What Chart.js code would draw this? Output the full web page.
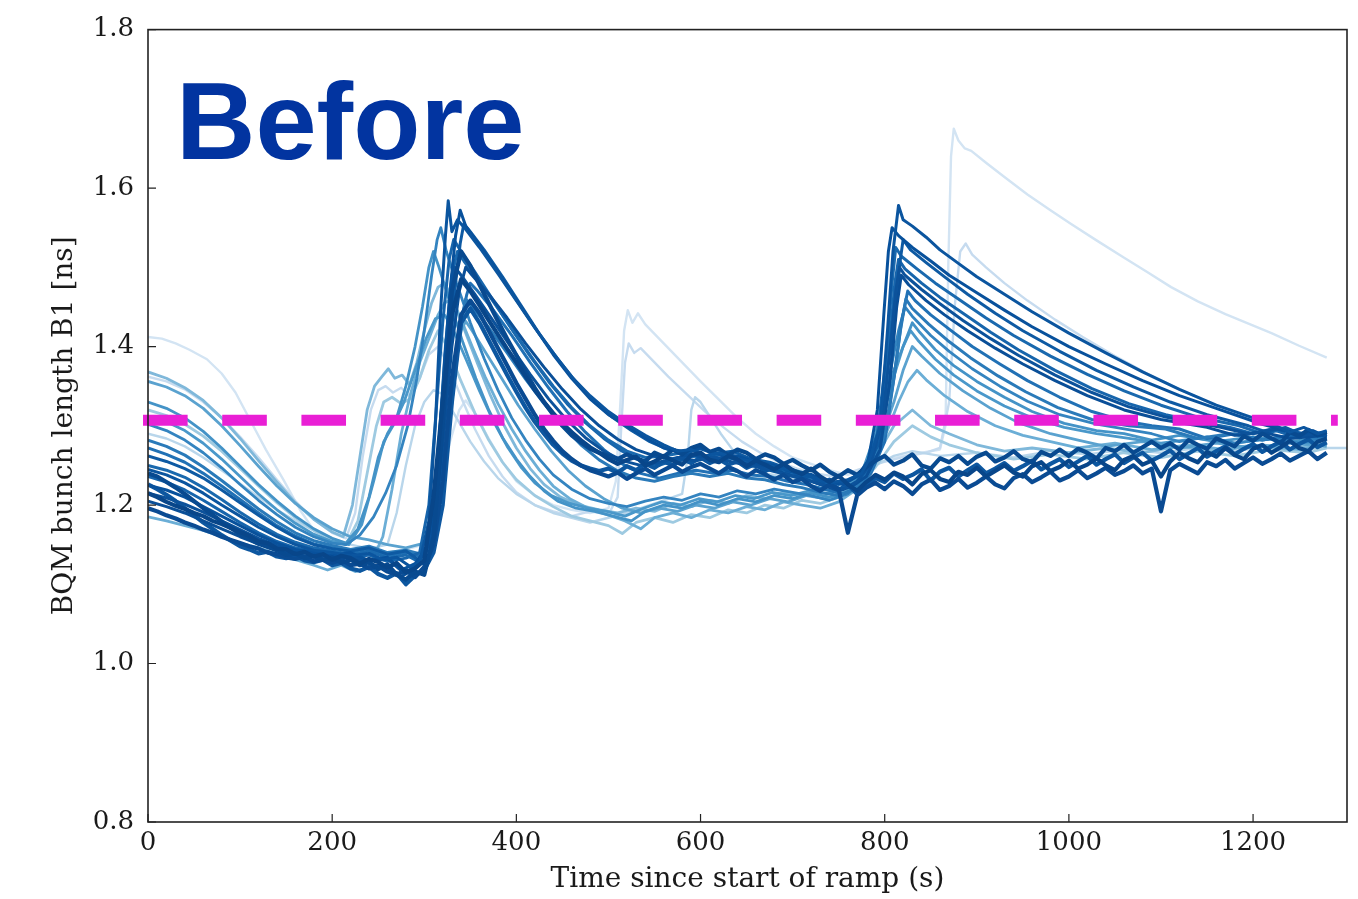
<!DOCTYPE html>
<html>
<head>
<meta charset="utf-8">
<script src="https://cdn.jsdelivr.net/npm/chart.js@4.4.1/dist/chart.umd.min.js"></script>
<style>
html,body{margin:0;padding:0;background:#fff;}
#wrap{width:1358px;height:899px;position:relative;}
</style>
</head>
<body>
<div id="wrap"><canvas id="c" width="1358" height="899"></canvas></div>
<script>
// ---------- tick labels ----------
const xTickValues = [0, 200, 400, 600, 800, 1000, 1200];
const yTickValues = [0.8, 1.0, 1.2, 1.4, 1.6, 1.8];
const xTitle = "Time since start of ramp (s)";
const yTitle = "BQM bunch length B1 [ns]";
const panelLabel = "Before";
const targetLevel = 1.307;
const targetSpan = [-5.4, 1292];

// ---------- smooth traces: [time (s), bunch length (ns)] ----------
const seriesA1 = [[0,1.245],[20,1.238],[40,1.228],[60,1.215],[80,1.200],[100,1.186],[120,1.172],[140,1.160],[160,1.150],[180,1.143],[200,1.140],[220,1.136],[240,1.139],[255,1.131],[270,1.134],[285,1.122],[295,1.128],[305,1.180],[312,1.300],[318,1.450],[323,1.540],[326,1.584],[330,1.545],[336,1.560],[345,1.548],[360,1.525],[380,1.492],[400,1.458],[420,1.424],[440,1.392],[460,1.362],[480,1.338],[500,1.318],[520,1.302],[540,1.288],[560,1.276],[575,1.268],[590,1.270],[605,1.262],[620,1.266],[640,1.258],[660,1.255],[680,1.248],[700,1.243],[720,1.236],[740,1.228],[760,1.232],[775,1.240],[785,1.262],[795,1.300],[803,1.420],[809,1.520],[815,1.578],[820,1.560],[830,1.552],[845,1.538],[860,1.522],[880,1.505],[900,1.488],[930,1.466],[960,1.444],[1000,1.417],[1040,1.392],[1080,1.368],[1120,1.346],[1160,1.326],[1200,1.310],[1225,1.300],[1240,1.292],[1255,1.298],[1270,1.290],[1280,1.294]];
const seriesA2 = [[0,1.225],[20,1.219],[40,1.210],[60,1.198],[80,1.186],[100,1.174],[120,1.162],[140,1.152],[160,1.144],[180,1.140],[200,1.136],[220,1.140],[240,1.130],[260,1.134],[275,1.118],[290,1.126],[305,1.150],[315,1.250],[322,1.380],[328,1.470],[334,1.540],[339,1.572],[345,1.552],[360,1.528],[380,1.494],[400,1.459],[420,1.424],[440,1.390],[460,1.360],[480,1.334],[500,1.314],[520,1.300],[540,1.285],[560,1.272],[580,1.268],[600,1.272],[620,1.264],[640,1.262],[660,1.254],[680,1.250],[700,1.242],[720,1.238],[740,1.230],[755,1.226],[770,1.236],[782,1.256],[792,1.320],[799,1.440],[804,1.520],[808,1.550],[815,1.540],[830,1.525],[850,1.508],[870,1.490],[900,1.468],[930,1.446],[960,1.425],[1000,1.400],[1040,1.378],[1080,1.357],[1120,1.338],[1160,1.322],[1210,1.302],[1230,1.296],[1250,1.288],[1265,1.294],[1280,1.286]];
const seriesA3 = [[0,1.262],[20,1.255],[40,1.246],[60,1.234],[80,1.219],[100,1.203],[120,1.187],[140,1.172],[160,1.159],[180,1.150],[200,1.145],[220,1.142],[240,1.146],[260,1.138],[280,1.142],[295,1.130],[308,1.160],[318,1.240],[326,1.360],[333,1.470],[339,1.530],[343,1.555],[350,1.545],[365,1.522],[385,1.488],[405,1.452],[425,1.416],[445,1.384],[465,1.355],[485,1.330],[505,1.310],[525,1.294],[545,1.280],[565,1.270],[585,1.266],[600,1.271],[615,1.265],[635,1.268],[655,1.258],[675,1.254],[695,1.246],[715,1.240],[735,1.232],[750,1.226],[765,1.234],[780,1.248],[795,1.280],[805,1.350],[812,1.450],[817,1.510],[820,1.535],[828,1.522],[845,1.506],[865,1.488],[890,1.466],[920,1.442],[950,1.420],[990,1.394],[1030,1.370],[1070,1.349],[1110,1.330],[1150,1.314],[1195,1.300],[1215,1.292],[1235,1.298],[1255,1.288],[1280,1.292]];
const seriesA4 = [[0,1.236],[20,1.229],[40,1.219],[60,1.206],[80,1.192],[100,1.178],[120,1.165],[140,1.154],[160,1.146],[180,1.141],[200,1.138],[220,1.133],[240,1.137],[260,1.129],[280,1.133],[295,1.140],[305,1.200],[313,1.320],[320,1.430],[327,1.510],[332,1.535],[340,1.520],[355,1.494],[375,1.458],[395,1.422],[415,1.388],[435,1.356],[455,1.328],[475,1.304],[495,1.284],[515,1.268],[535,1.256],[555,1.250],[575,1.258],[595,1.262],[615,1.256],[635,1.260],[655,1.250],[675,1.246],[695,1.238],[715,1.232],[735,1.224],[755,1.220],[770,1.228],[785,1.250],[797,1.300],[805,1.400],[811,1.480],[815,1.510],[822,1.498],[840,1.480],[860,1.462],[885,1.442],[915,1.418],[945,1.396],[985,1.370],[1025,1.347],[1065,1.328],[1105,1.314],[1140,1.305],[1175,1.298],[1200,1.290],[1220,1.296],[1245,1.286],[1280,1.290]];
const seriesA5 = [[0,1.205],[20,1.198],[40,1.190],[60,1.180],[80,1.170],[100,1.160],[120,1.151],[140,1.143],[160,1.138],[180,1.134],[200,1.130],[220,1.134],[240,1.126],[260,1.121],[275,1.110],[288,1.118],[300,1.130],[312,1.190],[322,1.300],[330,1.400],[338,1.470],[345,1.500],[352,1.490],[370,1.466],[390,1.436],[410,1.404],[430,1.374],[450,1.346],[470,1.321],[490,1.300],[510,1.283],[530,1.270],[550,1.262],[570,1.258],[590,1.264],[610,1.258],[630,1.261],[650,1.252],[670,1.249],[690,1.240],[710,1.234],[730,1.226],[750,1.218],[765,1.224],[780,1.236],[795,1.270],[806,1.360],[813,1.450],[818,1.490],[826,1.478],[845,1.458],[865,1.440],[890,1.420],[920,1.398],[950,1.378],[985,1.357],[1020,1.338],[1060,1.320],[1100,1.308],[1150,1.298],[1180,1.288],[1210,1.292],[1240,1.284],[1280,1.288]];
const seriesA6 = [[0,1.272],[20,1.264],[40,1.254],[60,1.240],[80,1.224],[100,1.207],[120,1.190],[140,1.174],[160,1.161],[180,1.151],[200,1.146],[220,1.141],[240,1.145],[260,1.136],[280,1.140],[300,1.134],[312,1.170],[322,1.250],[332,1.350],[340,1.430],[346,1.465],[350,1.480],[358,1.470],[375,1.446],[395,1.414],[415,1.380],[435,1.348],[455,1.318],[475,1.292],[495,1.270],[515,1.252],[535,1.240],[555,1.234],[575,1.240],[595,1.244],[615,1.240],[635,1.244],[655,1.238],[675,1.236],[695,1.230],[715,1.226],[735,1.220],[755,1.214],[770,1.222],[785,1.240],[800,1.280],[810,1.360],[818,1.430],[825,1.470],[833,1.458],[850,1.440],[870,1.422],[895,1.400],[925,1.378],[955,1.357],[990,1.336],[1025,1.318],[1060,1.306],[1090,1.300],[1120,1.296],[1150,1.284],[1180,1.290],[1210,1.282],[1240,1.288],[1280,1.284]];
const seriesA7 = [[0,1.302],[20,1.294],[40,1.282],[60,1.266],[80,1.247],[100,1.226],[120,1.206],[140,1.188],[160,1.172],[180,1.160],[200,1.152],[215,1.150],[230,1.162],[245,1.185],[258,1.215],[270,1.250],[282,1.300],[292,1.360],[300,1.420],[308,1.490],[314,1.535],[318,1.550],[324,1.520],[335,1.480],[350,1.430],[365,1.385],[380,1.345],[395,1.310],[410,1.282],[425,1.258],[440,1.238],[460,1.220],[480,1.208],[500,1.202],[520,1.198],[540,1.205],[560,1.210],[580,1.206],[600,1.214],[620,1.210],[640,1.218],[660,1.214],[680,1.220],[700,1.216],[720,1.212],[740,1.206],[760,1.214],[775,1.230],[790,1.270],[800,1.330],[808,1.380],[815,1.420],[822,1.450],[830,1.438],[850,1.414],[870,1.394],[895,1.372],[925,1.350],[955,1.331],[990,1.314],[1030,1.302],[1060,1.296],[1090,1.290],[1120,1.280],[1150,1.286],[1180,1.278],[1220,1.284],[1250,1.278],[1280,1.284]];
const seriesA8 = [[0,1.330],[20,1.322],[40,1.310],[60,1.293],[80,1.272],[100,1.249],[120,1.226],[140,1.205],[160,1.186],[180,1.170],[200,1.158],[215,1.152],[228,1.170],[240,1.210],[250,1.260],[260,1.290],[270,1.310],[280,1.350],[290,1.400],[298,1.450],[305,1.500],[310,1.520],[316,1.500],[328,1.455],[342,1.405],[356,1.360],[370,1.320],[385,1.285],[400,1.258],[415,1.236],[430,1.218],[445,1.205],[465,1.196],[485,1.192],[505,1.186],[525,1.180],[540,1.192],[560,1.200],[580,1.196],[600,1.205],[620,1.200],[640,1.208],[660,1.204],[680,1.212],[700,1.208],[720,1.215],[740,1.210],[760,1.218],[775,1.240],[790,1.290],[800,1.340],[810,1.370],[820,1.400],[830,1.430],[838,1.418],[855,1.396],[875,1.376],[900,1.356],[930,1.336],[960,1.318],[995,1.303],[1030,1.294],[1060,1.290],[1090,1.282],[1120,1.288],[1160,1.280],[1200,1.286],[1240,1.280],[1280,1.286]];
const seriesE1 = [[0,1.250],[20,1.244],[40,1.235],[60,1.222],[80,1.207],[100,1.191],[120,1.176],[140,1.163],[160,1.153],[180,1.146],[200,1.142],[220,1.138],[240,1.142],[260,1.133],[280,1.137],[298,1.126],[308,1.170],[316,1.280],[323,1.400],[330,1.490],[336,1.520],[343,1.508],[360,1.482],[380,1.448],[400,1.414],[420,1.381],[440,1.350],[460,1.323],[480,1.300],[500,1.282],[520,1.268],[540,1.260],[560,1.262],[580,1.266],[600,1.260],[620,1.264],[640,1.256],[660,1.252],[680,1.246],[700,1.240],[720,1.234],[740,1.226],[760,1.230],[778,1.244],[792,1.290],[802,1.390],[808,1.480],[812,1.525],[818,1.514],[835,1.498],[855,1.480],[880,1.460],[910,1.436],[940,1.414],[980,1.388],[1020,1.365],[1060,1.344],[1100,1.326],[1140,1.311],[1185,1.300],[1210,1.290],[1235,1.296],[1260,1.288],[1280,1.292]];
const seriesE2 = [[0,1.282],[20,1.274],[40,1.263],[60,1.248],[80,1.231],[100,1.213],[120,1.195],[140,1.179],[160,1.165],[180,1.155],[200,1.149],[220,1.144],[240,1.148],[260,1.140],[280,1.143],[300,1.137],[314,1.180],[325,1.280],[334,1.380],[340,1.430],[345,1.460],[352,1.450],[370,1.424],[390,1.392],[410,1.359],[430,1.328],[450,1.300],[470,1.276],[490,1.257],[510,1.243],[530,1.234],[550,1.230],[570,1.236],[590,1.240],[610,1.236],[630,1.240],[650,1.234],[670,1.232],[690,1.226],[710,1.222],[730,1.216],[750,1.212],[768,1.220],[785,1.244],[800,1.290],[810,1.360],[817,1.420],[823,1.460],[830,1.448],[848,1.428],[868,1.408],[893,1.386],[923,1.363],[953,1.343],[988,1.323],[1025,1.308],[1065,1.300],[1105,1.296],[1140,1.284],[1175,1.290],[1210,1.282],[1245,1.288],[1280,1.282]];
const seriesE3 = [[0,1.215],[20,1.209],[40,1.201],[60,1.191],[80,1.180],[100,1.169],[120,1.158],[140,1.149],[160,1.142],[180,1.138],[200,1.134],[220,1.137],[240,1.129],[260,1.132],[278,1.114],[292,1.124],[304,1.150],[314,1.250],[322,1.370],[328,1.460],[333,1.500],[340,1.490],[355,1.466],[375,1.432],[395,1.398],[415,1.365],[435,1.334],[455,1.307],[475,1.285],[495,1.268],[515,1.256],[535,1.250],[555,1.254],[575,1.260],[595,1.256],[615,1.261],[635,1.254],[655,1.250],[675,1.244],[695,1.238],[715,1.232],[735,1.225],[755,1.220],[770,1.230],[785,1.252],[798,1.310],[807,1.410],[812,1.470],[816,1.500],[822,1.490],[840,1.472],[860,1.454],[885,1.433],[915,1.410],[945,1.389],[985,1.364],[1025,1.342],[1065,1.324],[1105,1.311],[1135,1.304],[1165,1.298],[1195,1.290],[1225,1.296],[1255,1.288],[1280,1.292]];
const seriesE4 = [[0,1.312],[20,1.305],[40,1.294],[60,1.278],[80,1.258],[100,1.236],[120,1.214],[140,1.194],[160,1.177],[180,1.163],[200,1.154],[218,1.150],[232,1.175],[245,1.230],[256,1.280],[266,1.300],[278,1.330],[290,1.370],[302,1.410],[312,1.435],[322,1.440],[330,1.425],[345,1.385],[360,1.344],[375,1.306],[390,1.274],[405,1.248],[420,1.228],[438,1.212],[458,1.202],[478,1.196],[498,1.192],[518,1.186],[538,1.196],[558,1.204],[578,1.200],[598,1.208],[618,1.204],[638,1.212],[658,1.208],[678,1.216],[698,1.212],[718,1.218],[738,1.214],[758,1.222],[775,1.240],[790,1.280],[802,1.330],[812,1.370],[820,1.400],[828,1.420],[836,1.408],[855,1.384],[875,1.364],[900,1.344],[930,1.325],[960,1.310],[995,1.298],[1030,1.290],[1065,1.284],[1100,1.278],[1140,1.284],[1180,1.278],[1220,1.284],[1260,1.278],[1280,1.284]];
const seriesC1 = [[0,1.356],[20,1.349],[40,1.338],[60,1.322],[80,1.300],[100,1.275],[120,1.249],[140,1.224],[160,1.202],[180,1.184],[200,1.170],[220,1.160],[240,1.156],[260,1.150],[280,1.146],[300,1.152],[315,1.190],[325,1.280],[333,1.370],[340,1.420],[345,1.432],[352,1.420],[368,1.390],[385,1.358],[402,1.326],[420,1.296],[438,1.268],[456,1.244],[475,1.224],[495,1.208],[515,1.196],[535,1.190],[555,1.196],[575,1.192],[595,1.200],[615,1.196],[635,1.204],[655,1.200],[675,1.208],[695,1.204],[715,1.212],[735,1.208],[755,1.214],[775,1.232],[795,1.280],[810,1.330],[820,1.370],[830,1.400],[840,1.388],[860,1.366],[885,1.344],[915,1.322],[945,1.304],[980,1.290],[1010,1.282],[1040,1.274],[1080,1.280],[1120,1.272],[1160,1.278],[1200,1.272],[1240,1.278],[1280,1.274]];
const seriesC2 = [[0,1.185],[20,1.180],[40,1.174],[60,1.168],[80,1.160],[100,1.152],[120,1.146],[140,1.138],[160,1.131],[180,1.124],[195,1.118],[210,1.124],[225,1.116],[240,1.122],[255,1.160],[265,1.220],[275,1.290],[285,1.340],[295,1.380],[305,1.410],[315,1.440],[322,1.455],[330,1.460],[338,1.440],[352,1.400],[366,1.362],[380,1.328],[395,1.296],[410,1.268],[425,1.244],[440,1.224],[458,1.208],[478,1.196],[498,1.188],[518,1.180],[535,1.170],[550,1.184],[570,1.190],[590,1.184],[610,1.194],[630,1.190],[650,1.198],[670,1.194],[690,1.204],[710,1.200],[730,1.196],[750,1.204],[770,1.220],[790,1.260],[805,1.300],[815,1.330],[825,1.355],[835,1.370],[845,1.358],[865,1.338],[890,1.318],[920,1.300],[950,1.288],[980,1.280],[1010,1.272],[1050,1.278],[1090,1.270],[1130,1.276],[1170,1.270],[1210,1.276],[1250,1.270],[1280,1.276]];
const seriesC3 = [[0,1.368],[20,1.360],[40,1.348],[60,1.332],[80,1.310],[100,1.284],[120,1.256],[140,1.229],[160,1.203],[180,1.182],[200,1.166],[212,1.160],[222,1.200],[230,1.260],[238,1.320],[246,1.350],[254,1.362],[261,1.372],[268,1.360],[276,1.364],[284,1.352],[292,1.380],[300,1.420],[308,1.455],[315,1.475],[322,1.480],[330,1.462],[344,1.420],[358,1.378],[372,1.338],[386,1.302],[400,1.272],[415,1.246],[430,1.226],[448,1.210],[468,1.200],[490,1.194],[510,1.190],[530,1.196],[550,1.192],[570,1.202],[590,1.198],[610,1.206],[630,1.202],[650,1.212],[670,1.208],[690,1.216],[710,1.212],[730,1.220],[750,1.216],[770,1.230],[790,1.260],[810,1.300],[830,1.320],[850,1.300],[870,1.290],[900,1.276],[930,1.268],[960,1.272],[1000,1.266],[1040,1.272],[1080,1.266],[1120,1.274],[1160,1.268],[1200,1.276],[1240,1.270],[1280,1.278]];
const seriesC4 = [[0,1.320],[20,1.313],[40,1.302],[60,1.287],[80,1.268],[100,1.246],[120,1.224],[140,1.203],[160,1.184],[180,1.168],[200,1.156],[215,1.150],[228,1.180],[238,1.240],[248,1.300],[256,1.330],[265,1.336],[275,1.328],[285,1.334],[295,1.360],[305,1.395],[315,1.420],[325,1.400],[340,1.356],[355,1.316],[370,1.282],[385,1.254],[400,1.232],[420,1.212],[440,1.198],[460,1.186],[480,1.180],[500,1.174],[515,1.164],[530,1.178],[550,1.184],[570,1.178],[590,1.188],[610,1.184],[630,1.194],[650,1.190],[670,1.200],[690,1.196],[710,1.206],[730,1.202],[750,1.210],[770,1.222],[790,1.248],[810,1.280],[830,1.300],[850,1.286],[870,1.276],[900,1.266],[940,1.258],[980,1.264],[1020,1.258],[1060,1.266],[1100,1.260],[1140,1.268],[1180,1.262],[1220,1.270],[1260,1.266],[1280,1.272]];
const seriesD1 = [[0,1.412],[15,1.410],[30,1.404],[45,1.396],[64,1.384],[80,1.366],[95,1.342],[111,1.307],[128,1.270],[147,1.232],[165,1.194],[183,1.163],[200,1.148],[220,1.142],[240,1.146],[260,1.140],[280,1.144],[300,1.150],[315,1.200],[328,1.280],[338,1.320],[345,1.332],[355,1.316],[370,1.284],[385,1.254],[400,1.230],[420,1.212],[440,1.200],[460,1.194],[480,1.190],[500,1.196],[508,1.230],[513,1.330],[517,1.420],[521,1.446],[526,1.430],[532,1.442],[540,1.428],[560,1.404],[580,1.380],[600,1.356],[620,1.333],[640,1.310],[660,1.290],[680,1.274],[700,1.260],[720,1.252],[740,1.244],[760,1.238],[780,1.246],[800,1.256],[820,1.262],[840,1.266],[860,1.270],[866,1.300],[869,1.500],[872,1.640],[875,1.675],[880,1.660],[887,1.650],[894,1.647],[910,1.632],[930,1.614],[955,1.592],[980,1.572],[1002,1.555],[1030,1.534],[1060,1.512],[1085,1.494],[1111,1.475],[1140,1.457],[1170,1.441],[1195,1.429],[1220,1.417],[1250,1.401],[1280,1.386]];
const seriesD2 = [[0,1.362],[20,1.356],[40,1.346],[60,1.330],[80,1.310],[100,1.286],[120,1.260],[140,1.232],[160,1.205],[180,1.182],[200,1.165],[215,1.158],[225,1.190],[233,1.260],[242,1.320],[250,1.345],[258,1.350],[266,1.342],[275,1.348],[285,1.336],[295,1.360],[305,1.390],[315,1.400],[325,1.380],[340,1.336],[355,1.296],[370,1.262],[385,1.236],[400,1.216],[420,1.200],[440,1.192],[460,1.186],[480,1.192],[500,1.188],[510,1.210],[514,1.300],[518,1.380],[522,1.404],[528,1.392],[535,1.398],[545,1.386],[565,1.362],[585,1.340],[605,1.318],[625,1.298],[645,1.280],[665,1.266],[685,1.254],[705,1.246],[725,1.240],[745,1.236],[765,1.242],[785,1.250],[805,1.256],[825,1.262],[845,1.266],[860,1.272],[870,1.330],[876,1.450],[882,1.520],[888,1.530],[895,1.516],[910,1.500],[930,1.480],[955,1.458],[985,1.434],[1015,1.412],[1050,1.388],[1085,1.366],[1120,1.346],[1155,1.328],[1190,1.312],[1225,1.300],[1250,1.292],[1280,1.288]];
const seriesD3 = [[0,1.290],[20,1.284],[40,1.274],[60,1.260],[80,1.244],[100,1.227],[120,1.210],[140,1.194],[160,1.180],[180,1.168],[200,1.158],[220,1.150],[240,1.145],[260,1.150],[270,1.190],[280,1.250],[290,1.300],[300,1.330],[310,1.345],[320,1.340],[335,1.310],[350,1.280],[365,1.255],[380,1.234],[400,1.214],[420,1.200],[440,1.190],[460,1.184],[480,1.178],[500,1.184],[520,1.190],[540,1.198],[560,1.206],[580,1.214],[586,1.260],[590,1.320],[594,1.336],[600,1.330],[610,1.312],[622,1.290],[636,1.268],[650,1.252],[670,1.240],[690,1.236],[710,1.232],[730,1.228],[750,1.224],[770,1.232],[790,1.250],[810,1.262],[830,1.268],[860,1.262],[900,1.266],[940,1.260],[980,1.268],[1020,1.264],[1060,1.270],[1100,1.266],[1140,1.272],[1180,1.268],[1220,1.274],[1260,1.270],[1280,1.272],[1302,1.272]];

// ---------- noisy traces sampled every 10 s ----------
const tGrid = [0,10,20,30,40,50,60,70,80,90,100,110,120,130,140,150,160,170,180,190,200,210,220,230,240,250,260,270,280,290,300,310,320,330,340,350,360,370,380,390,400,410,420,430,440,450,460,470,480,490,500,510,520,530,540,550,560,570,580,590,600,610,620,630,640,650,660,670,680,690,700,710,720,730,740,750,760,770,780,790,800,810,820,830,840,850,860,870,880,890,900,910,920,930,940,950,960,970,980,990,1000,1010,1020,1030,1040,1050,1060,1070,1080,1090,1100,1110,1120,1130,1140,1150,1160,1170,1180,1190,1200,1210,1220,1230,1240,1250,1260,1270,1280];
const bandB1 = [1.215,1.210,1.204,1.199,1.195,1.190,1.186,1.180,1.176,1.171,
1.166,1.161,1.154,1.152,1.145,1.144,1.138,1.141,1.135,1.138,
1.131,1.136,1.133,1.126,1.132,1.128,1.121,1.127,1.115,1.120,
1.130,1.210,1.330,1.440,1.485,1.470,1.452,1.433,1.415,1.397,
1.380,1.362,1.345,1.330,1.316,1.303,1.292,1.282,1.273,1.266,
1.258,1.252,1.257,1.261,1.250,1.255,1.262,1.256,1.251,1.263,
1.266,1.257,1.254,1.262,1.258,1.249,1.256,1.251,1.245,1.252,
1.244,1.239,1.246,1.236,1.229,1.237,1.226,1.218,1.229,1.238,
1.232,1.241,1.236,1.226,1.239,1.244,1.233,1.229,1.242,1.238,
1.247,1.236,1.243,1.250,1.241,1.236,1.249,1.254,1.243,1.248,
1.256,1.246,1.251,1.259,1.250,1.244,1.257,1.262,1.251,1.256,
1.236,1.255,1.266,1.259,1.254,1.267,1.261,1.272,1.263,1.258,
1.271,1.276,1.266,1.273,1.281,1.272,1.268,1.280,1.284];
const bandB2 = [1.240,1.236,1.229,1.222,1.214,1.205,1.196,1.188,1.179,1.171,
1.163,1.157,1.151,1.147,1.143,1.137,1.139,1.133,1.136,1.131,
1.134,1.127,1.131,1.124,1.128,1.119,1.125,1.112,1.106,1.116,
1.112,1.160,1.300,1.470,1.520,1.502,1.478,1.455,1.432,1.410,
1.389,1.368,1.348,1.330,1.314,1.300,1.288,1.279,1.271,1.266,
1.262,1.258,1.264,1.259,1.255,1.266,1.261,1.270,1.264,1.272,
1.276,1.267,1.271,1.263,1.270,1.266,1.258,1.264,1.260,1.252,
1.257,1.250,1.244,1.251,1.242,1.236,1.244,1.238,1.248,1.256,
1.262,1.251,1.256,1.264,1.250,1.246,1.259,1.254,1.262,1.252,
1.261,1.266,1.255,1.260,1.268,1.258,1.254,1.267,1.262,1.270,
1.262,1.271,1.266,1.259,1.272,1.268,1.276,1.266,1.273,1.280,
1.272,1.278,1.270,1.282,1.276,1.271,1.284,1.279,1.274,1.287,
1.281,1.290,1.284,1.278,1.292,1.287,1.295,1.288,1.292];
const bandB3 = [1.196,1.192,1.187,1.183,1.178,1.174,1.169,1.165,1.160,1.156,
1.152,1.148,1.145,1.140,1.138,1.134,1.132,1.135,1.129,1.131,
1.127,1.131,1.124,1.126,1.120,1.123,1.116,1.112,1.118,1.109,
1.122,1.150,1.230,1.360,1.440,1.458,1.442,1.420,1.398,1.376,
1.354,1.334,1.314,1.296,1.281,1.268,1.258,1.250,1.244,1.240,
1.236,1.241,1.233,1.240,1.246,1.238,1.244,1.250,1.242,1.248,
1.252,1.246,1.240,1.248,1.243,1.236,1.244,1.239,1.232,1.238,
1.229,1.233,1.224,1.218,1.226,1.220,1.165,1.212,1.222,1.228,
1.220,1.230,1.224,1.214,1.226,1.232,1.219,1.224,1.233,1.222,
1.228,1.236,1.226,1.221,1.234,1.239,1.229,1.235,1.242,1.231,
1.236,1.244,1.234,1.240,1.247,1.238,1.243,1.250,1.240,1.246,
1.192,1.244,1.252,1.246,1.240,1.254,1.249,1.257,1.246,1.253,
1.260,1.252,1.258,1.265,1.256,1.262,1.268,1.258,1.266];
const bandB4 = [1.226,1.220,1.213,1.205,1.196,1.187,1.178,1.170,1.162,1.155,
1.148,1.144,1.139,1.141,1.135,1.133,1.136,1.130,1.128,1.131,
1.124,1.127,1.120,1.117,1.122,1.113,1.108,1.114,1.100,1.111,
1.118,1.140,1.200,1.330,1.430,1.448,1.430,1.408,1.386,1.364,
1.343,1.323,1.305,1.290,1.276,1.265,1.256,1.250,1.246,1.243,
1.246,1.241,1.249,1.244,1.252,1.247,1.255,1.250,1.258,1.253,
1.260,1.253,1.258,1.251,1.255,1.247,1.252,1.243,1.248,1.239,
1.244,1.233,1.238,1.227,1.232,1.219,1.226,1.214,1.224,1.234,
1.229,1.240,1.233,1.238,1.245,1.231,1.242,1.247,1.236,1.244,
1.251,1.240,1.246,1.253,1.243,1.249,1.256,1.245,1.252,1.258,
1.248,1.255,1.262,1.251,1.258,1.264,1.253,1.260,1.266,1.256,
1.262,1.269,1.258,1.265,1.272,1.261,1.268,1.274,1.264,1.271,
1.277,1.267,1.274,1.280,1.270,1.277,1.283,1.273,1.279];

// ---------- drawing order (bottom to top) and styles ----------
const traceStyles = [
  {pairs: seriesD1, color: '#d3e4f3', width: 2.4},
  {pairs: seriesD2, color: '#c6dbef', width: 2.4},
  {pairs: seriesD3, color: '#b9d6eb', width: 2.4},
  {pairs: seriesC4, color: '#9ecae1', width: 2.8},
  {pairs: seriesC3, color: '#7fb8da', width: 2.8},
  {pairs: seriesC2, color: '#6baed6', width: 2.8},
  {pairs: seriesC1, color: '#5aa2cf', width: 2.8},
  {pairs: seriesE4, color: '#4a98ca', width: 2.8},
  {pairs: seriesA8, color: '#4493c7', width: 2.8},
  {pairs: seriesA7, color: '#3484c0', width: 2.8},
  {pairs: seriesA6, color: '#2171b5', width: 3},
  {pairs: seriesE2, color: '#2a7ab9', width: 3},
  {pairs: seriesA4, color: '#1765ac', width: 3},
  {pairs: seriesE1, color: '#1a69ae', width: 3},
  {pairs: seriesA3, color: '#0e5aa3', width: 3},
  {grid: bandB4, color: '#0d57a0', width: 4.2},
  {pairs: seriesA5, color: '#0a4f98', width: 3},
  {pairs: seriesE3, color: '#0c529b', width: 3},
  {grid: bandB3, color: '#0a4b93', width: 4.2},
  {pairs: seriesA2, color: '#08519c', width: 3},
  {grid: bandB2, color: '#084a90', width: 4.2},
  {pairs: seriesA1, color: '#0b559f', width: 3},
  {grid: bandB1, color: '#08468a', width: 4.2}
];

const N = traceStyles.length;
const datasets = traceStyles.map((s, i) => {
  const data = s.pairs ? s.pairs.map(p => ({x: p[0], y: p[1]}))
                       : tGrid.map((t, k) => ({x: t, y: s.grid[k]}));
  return {
    data, borderColor: s.color, borderWidth: s.width,
    pointRadius: 0, tension: 0, fill: false,
    borderJoinStyle: 'round', order: N - i + 1
  };
});
datasets.push({
  data: [{x: targetSpan[0], y: targetLevel}, {x: targetSpan[1], y: targetLevel}],
  borderColor: '#e91fd5', borderWidth: 11, borderDash: [44.6, 34.6],
  borderCapStyle: 'butt', pointRadius: 0, clip: false, order: 0
});

const frameAndTicks = {
  id: 'frameAndTicks',
  afterDatasetsDraw(chart) {
    const {ctx, chartArea: a, scales: {x, y}} = chart;
    ctx.save();
    ctx.strokeStyle = '#222';
    ctx.lineWidth = 1.6;
    ctx.strokeRect(a.left, a.top, a.right - a.left, a.bottom - a.top);
    ctx.lineWidth = 1.2;
    ctx.beginPath();
    xTickValues.forEach(v => {
      const px = x.getPixelForValue(v);
      ctx.moveTo(px, a.bottom); ctx.lineTo(px, a.bottom - 8);
    });
    yTickValues.forEach(v => {
      const py = y.getPixelForValue(v);
      ctx.moveTo(a.left, py); ctx.lineTo(a.left + 8, py);
    });
    ctx.stroke();
    ctx.restore();
  },
  afterDraw(chart) {
    const {ctx} = chart;
    ctx.save();
    ctx.font = 'bold 110px "Liberation Sans", Arial, sans-serif';
    ctx.fillStyle = '#0234a0';
    ctx.textBaseline = 'alphabetic';
    ctx.textAlign = 'left';
    ctx.fillText(panelLabel, 176, 159);
    ctx.restore();
  }
};

Chart.defaults.font.family = '"DejaVu Serif", serif';
Chart.defaults.color = '#1a1a1a';

new Chart(document.getElementById('c'), {
  type: 'line',
  data: {datasets},
  options: {
    responsive: false,
    animation: false,
    events: [],
    layout: {padding: {top: 29, right: 11, left: 0, bottom: 0}},
    plugins: {legend: {display: false}, tooltip: {enabled: false}},
    scales: {
      x: {
        type: 'linear', min: 0, max: 1302,
        afterBuildTicks: s => { s.ticks = xTickValues.map(v => ({value: v})); },
        afterFit: s => { s.height = 77; },
        grid: {display: false, drawTicks: false},
        border: {display: false},
        ticks: {font: {size: 26}, padding: 6, maxRotation: 0, autoSkip: false, callback: v => String(v)},
        title: {display: true, text: xTitle, font: {size: 28, lineHeight: 1.2}, padding: {top: 0, bottom: 2}}
      },
      y: {
        type: 'linear', min: 0.8, max: 1.8,
        afterBuildTicks: s => { s.ticks = yTickValues.map(v => ({value: v})); },
        afterFit: s => { s.width = 148; },
        grid: {display: false, drawTicks: false},
        border: {display: false},
        ticks: {font: {size: 26}, padding: 14, autoSkip: false, callback: v => v.toFixed(1)},
        title: {display: true, text: yTitle, font: {size: 28, lineHeight: 1.2}, padding: {top: 48, bottom: 0}}
      }
    }
  },
  plugins: [frameAndTicks]
});
</script>
</body>
</html>
